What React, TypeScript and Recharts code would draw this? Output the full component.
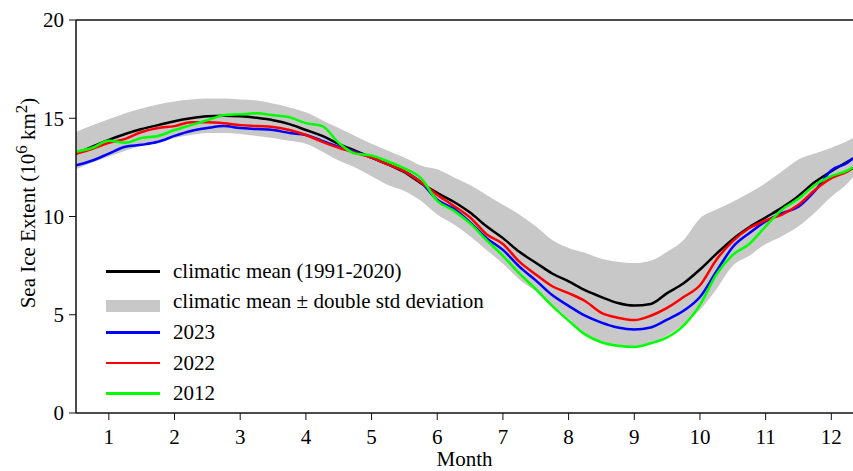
import React from "react";
import {
  ComposedChart,
  Area,
  Line,
  XAxis,
  YAxis,
  ReferenceLine,
  Legend
} from "recharts";

// month position (1 = middle of January ... ) sampled every quarter month
const months = [
  0.5, 0.75, 1, 1.25, 1.5, 1.75, 2, 2.25, 2.5, 2.75, 3, 3.25, 3.5, 3.75, 4, 4.25,
  4.5, 4.75, 5, 5.25, 5.5, 5.75, 6, 6.25, 6.5, 6.75, 7, 7.25, 7.5, 7.75, 8, 8.25,
  8.5, 8.75, 9, 9.25, 9.5, 9.75, 10, 10.25, 10.5, 10.75, 11, 11.25, 11.5, 11.75,
  12, 12.25, 12.33
];

const climaticMean = [
  13.2, 13.55, 13.9, 14.2, 14.45, 14.65, 14.85, 15.0, 15.1, 15.13, 15.1, 15.02,
  14.9, 14.7, 14.4, 14.1, 13.7, 13.35, 13.0, 12.65, 12.25, 11.7, 11.2, 10.75,
  10.2, 9.5, 8.9, 8.2, 7.65, 7.1, 6.7, 6.25, 5.9, 5.6, 5.47, 5.55, 6.1, 6.6,
  7.3, 8.1, 8.85, 9.45, 9.95, 10.45, 11.05, 11.75, 12.3, 12.8, 12.95
];

const bandLow = [
  12.4, 12.75, 13.05, 13.35, 13.6, 13.8, 14.0, 14.15, 14.25, 14.25, 14.2, 14.1,
  14.0, 13.85, 13.7, 13.3, 12.85, 12.5, 12.05, 11.6, 11.3, 10.8, 10.1, 9.6,
  9.0, 8.3, 7.6, 6.8, 6.2, 5.5, 4.8, 4.05, 3.6, 3.42, 3.36, 3.55, 3.95, 4.5,
  5.25, 6.3, 7.5, 8.0, 8.6, 9.0, 9.5, 10.2, 11.0, 11.7, 12.0
];

const bandHigh = [
  14.3, 14.65, 14.95, 15.25, 15.5, 15.7, 15.85, 15.95, 16.0, 16.0, 15.95, 15.9,
  15.75, 15.55, 15.3, 14.9, 14.5, 14.1, 13.7, 13.35, 13.0, 12.6, 12.4, 12.0,
  11.6, 11.1, 10.6, 10.1, 9.5, 8.8, 8.4, 8.15, 7.85, 7.7, 7.63, 7.75, 8.2, 8.8,
  9.9, 10.35, 10.75, 11.2, 11.7, 12.3, 12.9, 13.2, 13.5, 13.85, 14.0
];

const ext2023 = [
  12.6, 12.85, 13.2, 13.55, 13.65, 13.8, 14.1, 14.35, 14.5, 14.6, 14.5, 14.45,
  14.4, 14.25, 14.15, 13.85, 13.55, 13.3, 13.0, 12.65, 12.3, 11.75, 10.85, 10.4,
  9.7, 8.9, 8.3, 7.45, 6.75, 6.0, 5.45, 4.95, 4.6, 4.35, 4.25, 4.35, 4.75, 5.2,
  5.9, 7.2, 8.45, 9.15, 9.75, 10.17, 10.5, 11.3, 12.35, 12.75, 12.97
];

const ext2022 = [
  13.2, 13.45, 13.75, 13.95, 14.3, 14.5, 14.6, 14.8, 14.8, 14.75, 14.65, 14.6,
  14.55, 14.4, 14.15, 13.8, 13.5, 13.25, 13.0, 12.65, 12.3, 11.75, 11.1, 10.55,
  9.95, 9.1, 8.6, 7.7, 7.05, 6.45, 6.1, 5.7, 5.1, 4.85, 4.73, 4.95, 5.35, 5.9,
  6.5, 7.8, 8.75, 9.4, 9.8, 10.1, 10.6, 11.35, 11.95, 12.3, 12.47
];

const ext2012 = [
  13.3, 13.5, 13.85, 13.75, 14.0, 14.1, 14.4, 14.65, 14.9, 15.15, 15.2, 15.25,
  15.15, 15.05, 14.75, 14.6, 13.75, 13.2, 13.1, 12.8, 12.45, 11.95, 10.8, 10.3,
  9.65, 8.8, 8.0, 7.1, 6.3, 5.45, 4.7, 4.0, 3.6, 3.42, 3.36, 3.55, 3.85, 4.45,
  5.5, 7.05, 8.05, 8.6, 9.5, 10.35, 10.9, 11.6, 12.05, 12.35, 12.5
];

const monthTicks = [1, 2, 3, 4, 5, 6, 7, 8, 9, 10, 11, 12];
const extentTicks = [0, 5, 10, 15, 20];

const chartData = months.map((m, i) => ({
  m,
  mean: climaticMean[i],
  band: [bandLow[i], bandHigh[i]],
  y2023: ext2023[i],
  y2022: ext2022[i],
  y2012: ext2012[i]
}));

const FONT = "Liberation Serif";

const legendItems = [
  { label: "climatic mean (1991-2020)", color: "#000000", band: false },
  { label: "climatic mean \u00b1 double std deviation", color: "#c8c8c8", band: true },
  { label: "2023", color: "#0000ff", band: false },
  { label: "2022", color: "#ff0000", band: false },
  { label: "2012", color: "#00ff00", band: false }
];

const LegendBox = () => (
  <div style={{ fontFamily: FONT, fontSize: 21, color: "#000" }}>
    {legendItems.map(item => (
      <div
        key={item.label}
        style={{ display: "flex", alignItems: "center", height: 30.6, whiteSpace: "nowrap" }}
      >
        <div
          style={{
            width: 54,
            height: item.band ? 12 : 2.5,
            background: item.color,
            marginRight: 13,
            transform: item.band ? "translateY(4px)" : undefined
          }}
        />
        <span>{item.label}</span>
      </div>
    ))}
  </div>
);

const YTitle = (props: any) => {
  const vb = props.viewBox || { x: 0 };
  const cx = vb.x + 35;
  const cy = 203;
  return (
    <text
      x={cx}
      y={cy}
      transform={`rotate(-90 ${cx} ${cy})`}
      textAnchor="middle"
      style={{ fontFamily: FONT }}
      fontSize={21}
      fill="#000"
    >
      Sea Ice Extent (10
      <tspan dy={-8} fontSize={17}>6</tspan>
      <tspan dy={8}> km</tspan>
      <tspan dy={-8} fontSize={17}>2</tspan>
      <tspan dy={8}>)</tspan>
    </text>
  );
};

const XTitle = (props: any) => {
  const vb = props.viewBox || { x: 0, y: 0, width: 0 };
  return (
    <text
      x={vb.x + vb.width / 2}
      y={466}
      textAnchor="middle"
      style={{ fontFamily: FONT }}
      fontSize={21}
      fill="#000"
    >
      Month
    </text>
  );
};

const tickStyle = { fontFamily: FONT, fontSize: 21, fill: "#000" };

const App: React.FC = () => {
  return (
    <div style={{ position: "absolute", left: 0, top: 0, width: 853, height: 471, background: "#fff", fontFamily: FONT }}>
      <ComposedChart
        width={853}
        height={471}
        data={chartData}
        margin={{ top: 20, right: 0, bottom: 0, left: 0 }}
        style={{ fontFamily: FONT }}
      >
        <XAxis
          dataKey="m"
          type="number"
          domain={[0.5, 12.33]}
          ticks={monthTicks}
          interval={0}
          allowDataOverflow
          height={58}
          tickSize={7}
          tickMargin={9}
          axisLine={{ stroke: "#111", strokeWidth: 1.5 }}
          tickLine={{ stroke: "#111" }}
          tick={tickStyle}
          label={<XTitle />}
        />
        <YAxis
          type="number"
          domain={[0, 20]}
          ticks={extentTicks}
          interval={0}
          width={76}
          tickSize={7}
          tickMargin={5}
          axisLine={{ stroke: "#111", strokeWidth: 1.5 }}
          tickLine={{ stroke: "#111" }}
          tick={tickStyle}
          label={<YTitle />}
        />
        <ReferenceLine y={20} stroke="#111" strokeWidth={1.5} />
        <Area
          dataKey="band"
          type="monotone"
          fill="#c8c8c8"
          fillOpacity={1}
          stroke="none"
          isAnimationActive={false}
          legendType="none"
        />
        <Line dataKey="mean" type="monotone" stroke="#000000" strokeWidth={2.5} dot={false} isAnimationActive={false} />
        <Line dataKey="y2023" type="monotone" stroke="#0000ff" strokeWidth={2.5} dot={false} isAnimationActive={false} />
        <Line dataKey="y2022" type="monotone" stroke="#ff0000" strokeWidth={2.5} dot={false} isAnimationActive={false} />
        <Line dataKey="y2012" type="monotone" stroke="#00ff00" strokeWidth={2.5} dot={false} isAnimationActive={false} />
        <Legend
          layout="vertical"
          align="center"
          verticalAlign="middle"
          content={<LegendBox />}
          wrapperStyle={{ left: 106, top: 256, width: "auto", height: "auto" }}
        />
      </ComposedChart>
    </div>
  );
};

export default App;
